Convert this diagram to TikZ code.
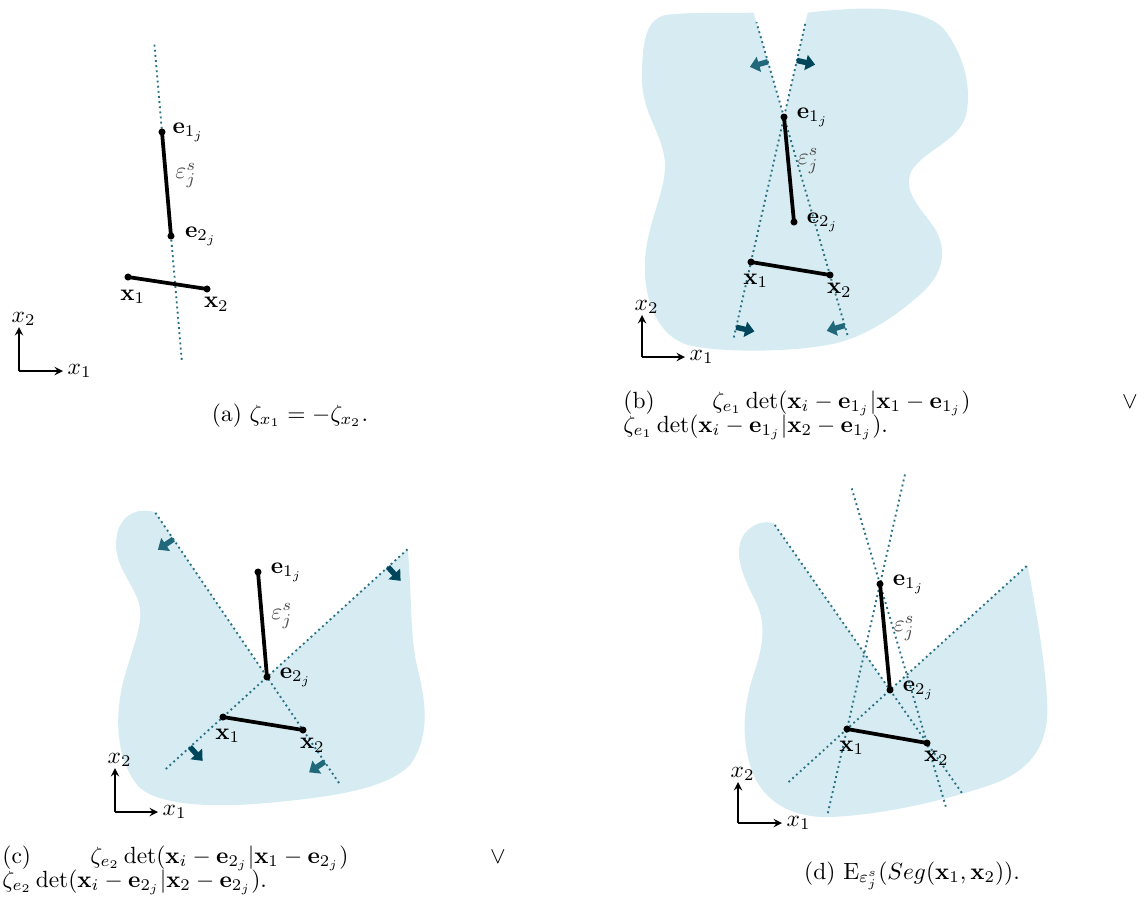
\documentclass[tikz,border=0pt]{standalone}
\usepackage{amsmath}
\usepackage{amssymb}
\usepackage{xcolor}
\usepackage{tikz}
\usetikzlibrary{arrows, arrows.meta, calc, positioning}
\definecolor{myblue}{RGB}{214,236,242}
\definecolor{myteal}{RGB}{40,112,132}
\definecolor{mydark}{RGB}{0,70,90}
\definecolor{mylight}{RGB}{32,104,122}
\tikzstyle{seg} = [line width=1.6pt, line cap=round]
\tikzstyle{guide} = [myteal, line width=0.8pt, dash pattern=on 0.8pt off 1.4pt]
\tikzstyle{axis} = [semithick,->,>=stealth]
\tikzstyle{push} = [line width=2.3pt, -{Triangle[length=4pt,width=6.5pt]}]

\begin{document}
\begin{tikzpicture}[x=0.015cm, y=-0.015cm, lbl/.style={inner sep=1pt},
    eps/.style={right, pos=0.42, inner sep=1pt, xshift=2.3pt, text=black!70}]
    \useasboundingbox (0,0) rectangle (1145,907);

    % (a)
    \coordinate (a-e1) at (162,132); \coordinate (a-e2) at (171,236);
    \coordinate (a-x1) at (128,277); \coordinate (a-x2) at (207,289);
    \draw[guide] ($(a-e1)!-0.84!(a-e2)$) -- ($(a-e1)!2.2!(a-e2)$);
    \draw[seg] (a-e1) -- node[eps] {$\varepsilon_j^s$} (a-e2);
    \draw[seg] (a-x1) -- (a-x2);
    \foreach \p in {a-e1, a-e2, a-x1, a-x2} \fill (\p) circle (1.5pt);
    \node[lbl, right=3.3pt of a-e1] (a-le1) {$\mathbf{e}_{1_j}$};
    \node[lbl, right=4.8pt of a-e2] (a-le2) {$\mathbf{e}_{2_j}$};
    \node[lbl, below=4.3pt of a-x1, xshift=2pt] (a-lx1) {$\mathbf{x}_1$};
    \node[lbl, below=2.3pt of a-x2, xshift=4pt] (a-lx2) {$\mathbf{x}_2$};
    \coordinate (a-o) at (19,371); \coordinate (a-ay) at (19,327); \coordinate (a-ax) at (63,371);
    \draw[axis] (a-o) -- (a-ay); \draw[axis] (a-o) -- (a-ax);
    \node[lbl, above=-0.7pt of a-ay, xshift=2pt] (a-l2) {$x_2$};
    \node[lbl, right=0.8pt of a-ax] (a-l1) {$x_1$};
    \node[anchor=base] (a-cap) at (290,421) {(a) $\zeta_{x_1} = -\zeta_{x_2}$.};

    % (b)
    \coordinate (b-e1) at (784,117); \coordinate (b-e2) at (794,222);
    \coordinate (b-x1) at (751,262); \coordinate (b-x2) at (830,275);
    \coordinate (b-c1) at ($(b-x2)!1.66!(b-e1)$); \coordinate (b-c2) at ($(b-x1)!1.72!(b-e1)$);
    \fill[myblue] (b-c1) -- (b-e1) -- (b-c2)
        .. controls (850,8) and (915,2) .. (943,28)
        .. controls (965,55) and (972,90) .. (966,115)
        .. controls (960,140) and (925,150) .. (912,170)
        .. controls (900,192) and (925,212) .. (937,232)
        .. controls (948,255) and (940,275) .. (925,290)
        .. controls (895,318) and (860,340) .. (827,345)
        .. controls (790,352) and (720,353) .. (688,345)
        .. controls (655,335) and (643,295) .. (645,260)
        .. controls (647,220) and (670,185) .. (664,155)
        .. controls (658,125) and (640,110) .. (642,70)
        .. controls (643,35) and (648,20) .. (665,15)
        .. controls (690,12) and (720,13) .. (b-c1) -- cycle;
    \draw[guide] ($(b-x1)!-0.52!(b-e1)$) -- ($(b-x1)!1.655!(b-e1)$);
    \draw[guide] ($(b-x2)!-0.38!(b-e1)$) -- ($(b-x2)!1.6!(b-e1)$);
    \draw[push, mydark] ($(b-x1)!1.39!(b-e1)$) -- ($(b-x1)!1.39!(b-e1)!8pt!90:(b-e1)$);
    \draw[push, mydark] ($(b-x1)!-0.45!(b-e1)$) -- ($(b-x1)!-0.45!(b-e1)!8pt!-90:(b-e1)$);
    \draw[push, mylight] ($(b-x2)!1.35!(b-e1)$) -- ($(b-x2)!1.35!(b-e1)!8pt!-90:(b-e1)$);
    \draw[push, mylight] ($(b-x2)!-0.32!(b-e1)$) -- ($(b-x2)!-0.32!(b-e1)!8pt!90:(b-e1)$);
    \draw[seg] (b-e1) -- node[eps] {$\varepsilon_j^s$} (b-e2);
    \draw[seg] (b-x1) -- (b-x2);
    \foreach \p in {b-e1, b-e2, b-x1, b-x2} \fill (\p) circle (1.5pt);
    \node[lbl, right=4.3pt of b-e1] (b-le1) {$\mathbf{e}_{1_j}$};
    \node[lbl, right=4.3pt of b-e2] (b-le2) {$\mathbf{e}_{2_j}$};
    \node[lbl, below=3.8pt of b-x1, xshift=2pt] (b-lx1) {$\mathbf{x}_1$};
    \node[lbl, below=2.3pt of b-x2, xshift=4pt] (b-lx2) {$\mathbf{x}_2$};
    \coordinate (b-o) at (642,357); \coordinate (b-ay) at (642,315); \coordinate (b-ax) at (685,357);
    \draw[axis] (b-o) -- (b-ay); \draw[axis] (b-o) -- (b-ax);
    \node[lbl, above=-0.7pt of b-ay, xshift=2pt] (b-l2) {$x_2$};
    \node[lbl, right=0.8pt of b-ax] (b-l1) {$x_1$};
    \node[anchor=base west, inner sep=0pt] (b-cap) at (623,408) {(b)};
    \node[anchor=base west, inner sep=0pt] (b-cap1) at (712,408) {$\zeta_{e_1}\det(\mathbf{x}_i-\mathbf{e}_{1_j}|\mathbf{x}_1-\mathbf{e}_{1_j})$};
    \node[anchor=base, inner sep=0pt] (b-or) at (1130,408) {$\vee$};
    \node[anchor=base west, inner sep=0pt] (b-cap2) at (623,432) {$\zeta_{e_1}\det(\mathbf{x}_i-\mathbf{e}_{1_j}|\mathbf{x}_2-\mathbf{e}_{1_j})$.};

    % (c)
    \coordinate (c-e1) at (258,572); \coordinate (c-e2) at (267,677);
    \coordinate (c-x1) at (223,717); \coordinate (c-x2) at (303,730);
    \coordinate (c-t3) at ($(c-x1)!4.2!(c-e2)$); \coordinate (c-t4) at ($(c-x2)!4.11!(c-e2)$);
    \fill[myblue] (c-t4) -- (c-e2) -- (c-t3)
        .. controls (412,600) and (410,640) .. (418,670)
        .. controls (428,710) and (428,740) .. (410,765)
        .. controls (385,790) and (330,797) .. (267,803)
        .. controls (210,808) and (160,805) .. (140,788)
        .. controls (118,765) and (112,720) .. (125,675)
        .. controls (135,640) and (145,620) .. (138,600)
        .. controls (128,575) and (110,560) .. (118,530)
        .. controls (125,512) and (140,508) .. (c-t4) -- cycle;
    \draw[guide] ($(c-x1)!-1.3!(c-e2)$) -- (c-t3);
    \draw[guide] ($(c-x2)!-1.0!(c-e2)$) -- (c-t4);
    \draw[push, mydark] ($(c-x1)!3.75!(c-e2)$) -- ($(c-x1)!3.75!(c-e2)!8pt!90:(c-e2)$);
    \draw[push, mydark] ($(c-x1)!-0.75!(c-e2)$) -- ($(c-x1)!-0.75!(c-e2)!8pt!-90:(c-e2)$);
    \draw[push, mylight] ($(c-x2)!3.6!(c-e2)$) -- ($(c-x2)!3.6!(c-e2)!8pt!-90:(c-e2)$);
    \draw[push, mylight] ($(c-x2)!-0.6!(c-e2)$) -- ($(c-x2)!-0.6!(c-e2)!8pt!90:(c-e2)$);
    \draw[seg] (c-e1) -- node[eps] {$\varepsilon_j^s$} (c-e2);
    \draw[seg] (c-x1) -- (c-x2);
    \foreach \p in {c-e1, c-e2, c-x1, c-x2} \fill (\p) circle (1.5pt);
    \node[lbl, right=4.3pt of c-e1] (c-le1) {$\mathbf{e}_{1_j}$};
    \node[lbl, right=4.3pt of c-e2] (c-le2) {$\mathbf{e}_{2_j}$};
    \node[lbl, below=3.8pt of c-x1, xshift=2pt] (c-lx1) {$\mathbf{x}_1$};
    \node[lbl, below=2.3pt of c-x2, xshift=4pt] (c-lx2) {$\mathbf{x}_2$};
    \coordinate (c-o) at (115,812); \coordinate (c-ay) at (115,768); \coordinate (c-ax) at (158,812);
    \draw[axis] (c-o) -- (c-ay); \draw[axis] (c-o) -- (c-ax);
    \node[lbl, above=-0.7pt of c-ay, xshift=2pt] (c-l2) {$x_2$};
    \node[lbl, right=0.8pt of c-ax] (c-l1) {$x_1$};
    \node[anchor=base west, inner sep=0pt] (c-cap) at (2,863) {(c)};
    \node[anchor=base west, inner sep=0pt] (c-cap1) at (90,863) {$\zeta_{e_2}\det(\mathbf{x}_i-\mathbf{e}_{2_j}|\mathbf{x}_1-\mathbf{e}_{2_j})$};
    \node[anchor=base, inner sep=0pt] (c-or) at (498,863) {$\vee$};
    \node[anchor=base west, inner sep=0pt] (c-cap2) at (2,887) {$\zeta_{e_2}\det(\mathbf{x}_i-\mathbf{e}_{2_j}|\mathbf{x}_2-\mathbf{e}_{2_j})$.};

    % (d)
    \coordinate (d-e1) at (880,584); \coordinate (d-e2) at (890,690);
    \coordinate (d-x1) at (847,729); \coordinate (d-x2) at (927,743);
    \coordinate (d-t3) at ($(d-x1)!4.2!(d-e2)$); \coordinate (d-t4) at ($(d-x2)!4.15!(d-e2)$);
    \fill[myblue] (d-t4) -- (d-e2) -- (d-t3)
        .. controls (1036,610) and (1045,660) .. (1047,700)
        .. controls (1050,740) and (1035,770) .. (990,785)
        .. controls (940,802) and (880,815) .. (830,817)
        .. controls (790,818) and (760,800) .. (750,765)
        .. controls (740,730) and (745,700) .. (755,670)
        .. controls (765,640) and (765,620) .. (755,600)
        .. controls (742,575) and (732,550) .. (745,533)
        .. controls (755,522) and (765,521) .. (d-t4) -- cycle;
    \draw[guide] ($(d-x1)!-0.58!(d-e1)$) -- ($(d-x1)!1.77!(d-e1)$);
    \draw[guide] ($(d-x2)!-0.40!(d-e1)$) -- ($(d-x2)!1.62!(d-e1)$);
    \draw[guide] ($(d-x1)!-1.36!(d-e2)$) -- (d-t3);
    \draw[guide] ($(d-x2)!-0.94!(d-e2)$) -- (d-t4);
    \draw[seg] (d-e1) -- node[eps] {$\varepsilon_j^s$} (d-e2);
    \draw[seg] (d-x1) -- (d-x2);
    \foreach \p in {d-e1, d-e2, d-x1, d-x2} \fill (\p) circle (1.5pt);
    \node[lbl, right=4.3pt of d-e1] (d-le1) {$\mathbf{e}_{1_j}$};
    \node[lbl, right=4.3pt of d-e2] (d-le2) {$\mathbf{e}_{2_j}$};
    \node[lbl, below=3.8pt of d-x1, xshift=2pt] (d-lx1) {$\mathbf{x}_1$};
    \node[lbl, below=2.3pt of d-x2, xshift=4pt] (d-lx2) {$\mathbf{x}_2$};
    \coordinate (d-o) at (738,823); \coordinate (d-ay) at (738,782); \coordinate (d-ax) at (782,823);
    \draw[axis] (d-o) -- (d-ay); \draw[axis] (d-o) -- (d-ax);
    \node[lbl, above=-0.7pt of d-ay, xshift=2pt] (d-l2) {$x_2$};
    \node[lbl, right=0.8pt of d-ax] (d-l1) {$x_1$};
    \node[anchor=base] (d-cap) at (912,879) {(d) $\mathrm{E}_{\varepsilon_j^s}(Seg(\mathbf{x}_1,\mathbf{x}_2))$.};
\end{tikzpicture}
\end{document}
